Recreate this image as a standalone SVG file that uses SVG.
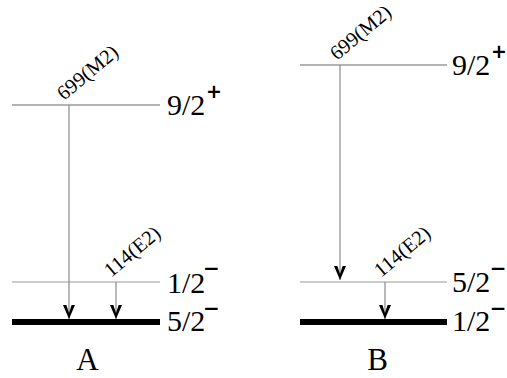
<svg xmlns="http://www.w3.org/2000/svg" width="507" height="378" viewBox="0 0 507 378">
<style>
.lvl{stroke:#9a9a9a;stroke-width:1.2;fill:none}
.lvlt{stroke:#9a9a9a;stroke-width:1.6;fill:none}
.gnd{stroke:#000;stroke-width:6;fill:none}
.tr{stroke:#8a8a8a;stroke-width:1.2;fill:none;marker-end:url(#ah)}
.big{font-family:"Liberation Serif","Times New Roman",serif;font-size:30px;fill:#000}
.sup{font-family:"DejaVu Sans",sans-serif;font-size:19px;font-weight:bold;fill:#000}
.neg{font-family:"DejaVu Sans",sans-serif;font-size:20px;font-weight:bold;fill:#000}
.end{text-anchor:end}
.lab{font-family:"Liberation Serif","Times New Roman",serif;font-size:20.5px;fill:#000}
.ttl{font-family:"Liberation Serif","Times New Roman",serif;font-size:31px;fill:#000;text-anchor:middle}
</style>
<defs>
<marker id="ah" markerUnits="userSpaceOnUse" markerWidth="18" markerHeight="16" viewBox="-16 -8 18 16" refX="0" refY="0" orient="auto">
<path d="M0,0 L-14,-6 L-14,-2.6 L-6,0 L-14,2.6 L-14,6 Z" fill="#000"/>
</marker>
</defs>
<g id="schemeA">
<g id="A_9_2">
<line class="lvlt" x1="12" y1="105" x2="160" y2="105"/>
<text class="big" x="167" y="115">9/2</text>
<text class="sup" x="206" y="98">+</text>
</g>
<g id="A_1_2">
<line class="lvl" x1="12" y1="282" x2="160" y2="282"/>
<text class="big" x="167" y="293">1/2</text>
<text class="neg" x="203" y="275">−</text>
</g>
<g id="A_5_2">
<line class="gnd" x1="12" y1="322" x2="160" y2="322"/>
<text class="big" x="167" y="331">5/2</text>
<text class="neg" x="203" y="314.5">−</text>
</g>
<text id="A_title" class="ttl" x="87.5" y="370">A</text>
</g>
<g id="schemeB">
<g id="B_9_2">
<line class="lvlt" x1="300" y1="65" x2="447" y2="65"/>
<text class="big" x="452" y="75">9/2</text>
<text class="sup" x="491" y="58">+</text>
</g>
<g id="B_5_2">
<line class="lvl" x1="300" y1="282" x2="447" y2="282"/>
<text class="big" x="452" y="292">5/2</text>
<text class="neg end" x="506.5" y="275">−</text>
</g>
<g id="B_1_2">
<line class="gnd" x1="300" y1="322" x2="447" y2="322"/>
<text class="big" x="452" y="331">1/2</text>
<text class="neg end" x="506.5" y="314.5">−</text>
</g>
<text id="B_title" class="ttl" x="377.5" y="370">B</text>
</g>
<g id="connectors">
<line class="tr" x1="69" y1="105" x2="69" y2="319"/>
<line class="tr" x1="116" y1="282" x2="116" y2="319"/>
<line class="tr" x1="340" y1="65" x2="340" y2="280"/>
<line class="tr" x1="385" y1="282" x2="385" y2="319"/>
<text class="lab" transform="translate(64,101) rotate(-40)">699(M2)</text>
<text class="lab" transform="translate(111,278) rotate(-40)">114(E2)</text>
<text class="lab" transform="translate(337,61) rotate(-40)">699(M2)</text>
<text class="lab" transform="translate(381,278) rotate(-40)">114(E2)</text>
</g>
</svg>
